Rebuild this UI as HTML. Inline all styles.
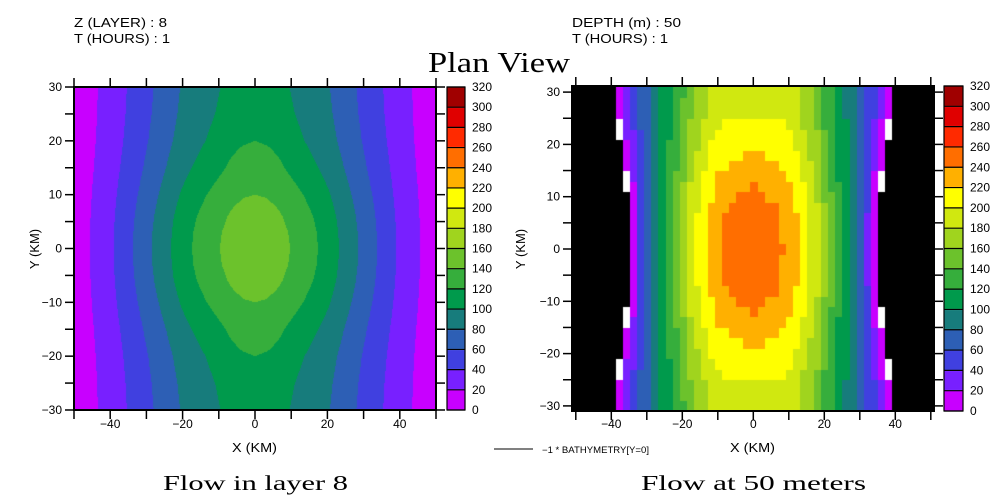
<!DOCTYPE html>
<html><head><meta charset="utf-8">
<style>
html,body{margin:0;padding:0;background:#fff;}
#w{position:relative;width:996px;height:498px;overflow:hidden;background:#fff;}
canvas{position:absolute;left:0;top:0;}
svg{position:absolute;left:0;top:0;}
text{font-family:"Liberation Sans",sans-serif;fill:#000;}
.s{font-family:"Liberation Serif",serif;}
</style></head><body>
<div id="w">
<canvas id="c" width="996" height="498"></canvas>
<svg id="g" width="996" height="498" xmlns="http://www.w3.org/2000/svg">
<g font-size="13">
<text x="74" y="27" textLength="93" lengthAdjust="spacingAndGlyphs">Z (LAYER) : 8</text>
<text x="74" y="43" textLength="96" lengthAdjust="spacingAndGlyphs">T (HOURS) : 1</text>
<text x="572" y="27" textLength="109" lengthAdjust="spacingAndGlyphs">DEPTH (m) : 50</text>
<text x="572" y="43" textLength="96" lengthAdjust="spacingAndGlyphs">T (HOURS) : 1</text>
</g>
<text class="s" x="428" y="72" font-size="28" textLength="142" lengthAdjust="spacingAndGlyphs">Plan View</text>
<text class="s" x="163" y="490" font-size="21" textLength="185" lengthAdjust="spacingAndGlyphs">Flow in layer 8</text>
<text class="s" x="641" y="490" font-size="21" textLength="225" lengthAdjust="spacingAndGlyphs">Flow at 50 meters</text>
<text x="232" y="452" font-size="13" textLength="45" lengthAdjust="spacingAndGlyphs">X (KM)</text>
<text x="730" y="452" font-size="13" textLength="45" lengthAdjust="spacingAndGlyphs">X (KM)</text>
<text transform="translate(39,249) rotate(-90)" font-size="13" text-anchor="middle">Y (KM)</text>
<text transform="translate(525,249) rotate(-90)" font-size="13" text-anchor="middle">Y (KM)</text>
<line x1="494" y1="449" x2="533" y2="449" stroke="#000" stroke-width="1"/>
<text x="542" y="453" font-size="9" textLength="107" lengthAdjust="spacingAndGlyphs">−1 * BATHYMETRY[Y=0]</text>
<g id="ax"></g>
</svg>
</div>
<script>
var cols=["#c800ff","#7820ff","#4040e0","#2d5fb5","#177c7c","#009a4c","#36ae3c","#6cc22c","#a0d41e","#d0e810","#ffff00","#ffb000","#ff6e00","#ff2a00","#e00000","#a00000"];
function lvl(v){var i=Math.floor(v/20);if(i<0)i=0;if(i>15)i=15;return cols[i];}
function interp(tab,x){x=Math.abs(x);for(var i=0;i<tab.length-1;i++){if(x<=tab[i+1][0]){var a=tab[i],b=tab[i+1];return a[1]+(b[1]-a[1])*(x-a[0])/(b[0]-a[0]);}}return tab[tab.length-1][1];}
var ctx=document.getElementById('c').getContext('2d');
var LF0=[[0,152],[3,151],[6,147.5],[9.7,140],[13.5,131],[17.4,120],[20.5,110],[23.2,100],[28.5,80],[33.7,60],[39,40],[45.6,20],[52,0],[60,0]];
var LF30=[[0,112],[4,110],[7,106],[9.5,100],[15,90],[20.7,80],[28,60],[35.4,40],[43.4,20],[52,2],[60,0]];
var LT=[[0,0],[3,0.027],[6,0.108],[10,0.3],[15,0.58],[20,0.8],[25,0.93],[30,1],[40,1]];
for(var py=87;py<410;py++){var yy=(248.5-(py+0.5))/5.383;var tt=interp(LT,yy);
 var prev=null,start=74;
 for(var px=74;px<=436;px++){var cc=null;
  if(px<436){var xx=(px+0.5-255)/3.62;var vv=(1-tt)*interp(LF0,xx)+tt*interp(LF30,xx);cc=lvl(vv);}
  if(cc!==prev){if(prev){ctx.fillStyle=prev;ctx.fillRect(start,py,px-start,1);}prev=cc;start=px;}
 }}
ctx.fillStyle="#000";ctx.fillRect(572,86,362,325);
var RF0=[[0,256],[7.6,243],[9.6,236],[13.6,216],[17.6,190],[31.6,50],[33.6,10],[34.6,0],[60,0]];
var RF30=[[0,195],[11,190],[14.6,170],[18.6,150],[20.6,130],[24.6,110],[27.6,90],[30.6,70],[33.6,50],[35.6,30],[37.6,10],[39,0]];
var RT=[[0,0],[6,0.05],[9,0.12],[12,0.24],[18,0.55],[22,0.72],[24,0.82],[26,0.95],[30,1],[40,1]];
var first=[0,0,0,1,1,1,1,1,2,2,2,2,2,2,2,2,2,2,2,2,2,2,2,1,1,1,1,1,0,0,0];
var white=[-1,-1,-1,0,0,-1,-1,-1,1,1,-1,-1,-1,-1,-1,-1,-1,-1,-1,-1,-1,1,1,-1,-1,-1,0,0,-1,-1,-1];
var cw=276/39;
for(var i=0;i<31;i++){
 var rtop=88+10.43*i, rbot=rtop+10.43; if(i==0)rtop=86; if(i==30)rbot=411;
 var ry=(15-i)*2; var rt=interp(RT,ry);
 for(var k=0;k<39;k++){
  var kk=Math.min(k,38-k);
  var x0=616+cw*k, x1=x0+cw;
  var xc=((x0+x1)/2-753)/3.55;
  var col;
  if(kk===white[i]) col="#fff";
  else if(kk<first[i]) continue;
  else {var rv=(1-rt)*interp(RF0,xc)+rt*interp(RF30,xc);col=lvl(rv);}
  ctx.fillStyle=col;ctx.fillRect(Math.round(x0),Math.round(rtop),Math.round(x1)-Math.round(x0),Math.round(rbot)-Math.round(rtop));
 }}
function cbar(x,w,t,b){var h=(b-t)/16;for(var i=0;i<16;i++){ctx.fillStyle=cols[i];ctx.fillRect(x,b-h*(i+1),w,h);}}
cbar(447,18,87,410);cbar(944,19,86,411);
var ax=document.getElementById('ax'),s="";
function L(a,b,c,d,w){s+='<line x1="'+a+'" y1="'+b+'" x2="'+c+'" y2="'+d+'" stroke="#000" stroke-width="'+(w||1.5)+'"/>';}
function T(x,y,str,anc){s+='<text x="'+x+'" y="'+y+'" font-size="12" text-anchor="'+(anc||"middle")+'">'+str.replace("-","−")+'</text>';}
s+='<rect x="74" y="87" width="362" height="323" fill="none" stroke="#000" stroke-width="2"/>';
for(var v=-50;v<=50;v+=10){var px=255+v*3.62;L(px,87,px,78);L(px,410,px,419);if(v%20==0&&Math.abs(v)<50)T(px,428,String(v));}
for(var v=-30;v<=30;v+=5){var py=248.5-v*5.383;L(74,py,65,py);L(436,py,445,py);if(v%10==0)T(62,py+4,String(v),"end");}
s+='<rect x="572" y="86" width="362" height="325" fill="none" stroke="#000" stroke-width="2"/>';
for(var v=-50;v<=50;v+=10){var px=753.3+v*3.55;L(px,86,px,77);L(px,411,px,420);if(v%20==0&&Math.abs(v)<50)T(px,428,String(v));}
for(var v=-30;v<=30;v+=5){var py=249-v*5.23;L(572,py,563,py);L(934,py,943,py);if(v%10==0)T(560,py+4,String(v),"end");}
function cb(x,w,t,b,lx){var h=(b-t)/16;s+='<rect x="'+x+'" y="'+t+'" width="'+w+'" height="'+(b-t)+'" fill="none" stroke="#000" stroke-width="1.2"/>';
 for(var i=0;i<=16;i++){var py=b-h*i;L(x,py,x+w,py,1.2);T(lx,py+4,String(i*20),"start");}}
cb(447,18,87,410,472);cb(944,19,86,411,970);
ax.innerHTML=s;
</script>
</body></html>
